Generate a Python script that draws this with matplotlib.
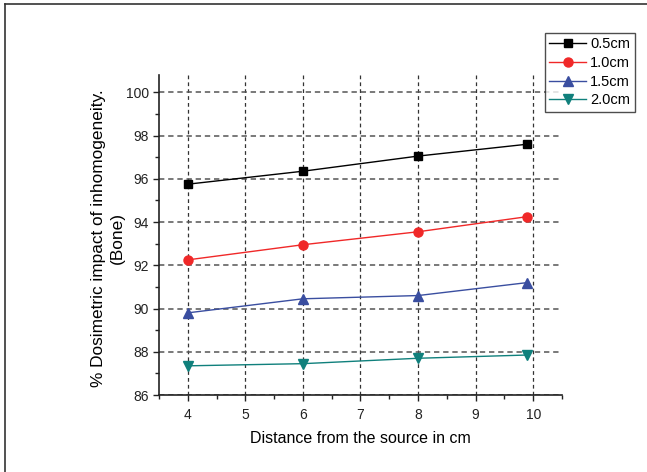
import matplotlib.pyplot as plt
from matplotlib.lines import Line2D
from matplotlib.ticker import MultipleLocator

plt.rcParams['font.family'] = ['Liberation Sans', 'DejaVu Sans']

# distance from source (cm)
distance = [4, 6, 8, 9.9]

# dosimetric impact per depth
d05 = [95.75, 96.35, 97.05, 97.6]
d10 = [92.25, 92.95, 93.55, 94.25]
d15 = [89.8, 90.45, 90.6, 91.2]
d20 = [87.35, 87.45, 87.7, 87.85]

labels = ['0.5cm', '1.0cm', '1.5cm', '2.0cm']

fig = plt.figure(figsize=(6.47, 4.72), dpi=100)
ax = fig.add_axes([0.2457, 0.1631, 0.6229, 0.678])

ax.plot(distance, d05, '-s', color='black', lw=1, ms=5.5, label=labels[0])
ax.plot(distance, d10, '-o', color='#f02828', lw=1, ms=6.5, label=labels[1])
ax.plot(distance, d15, '-^', color='#3a4ea0', lw=1, ms=7, label=labels[2])
ax.plot(distance, d20, '-v', color='#10807c', lw=1, ms=7, label=labels[3])

ax.set_xlim(3.5, 10.5)
ax.set_ylim(86, 100.8)
ax.xaxis.set_major_locator(MultipleLocator(1))
ax.xaxis.set_minor_locator(MultipleLocator(0.5))
ax.yaxis.set_major_locator(MultipleLocator(2))
ax.yaxis.set_minor_locator(MultipleLocator(1))

ax.spines['top'].set_visible(False)
ax.spines['right'].set_visible(False)
for s in ('left', 'bottom'):
    ax.spines[s].set_linewidth(1.2)
    ax.spines[s].set_color('#222222')

ax.tick_params(which='major', direction='out', length=4, width=1, labelsize=10, colors='#222222')
ax.tick_params(axis='x', which='major', pad=5)
ax.tick_params(axis='y', which='major', pad=3)
ax.tick_params(which='minor', direction='out', length=3, width=1, colors='#222222')

ax.grid(True, which='major', axis='x', color='#333333', ls=(0, (3, 2.5)), lw=0.9)
ax.grid(True, which='major', axis='y', color='#555555', ls=(0, (3.5, 2.5)), lw=1.1)

ax.set_xlabel('Distance from the source in cm', fontsize=11.5, labelpad=7)
ax.set_ylabel('% Dosimetric impact of inhomogeneity.\n(Bone)', fontsize=12.4,
              linespacing=1.3)
ax.yaxis.set_label_coords(-0.085, 0.49)

leg = ax.legend(loc='upper left', bbox_to_anchor=(545 / 647, 1 - 33 / 472),
                bbox_transform=fig.transFigure, borderaxespad=0, fontsize=10.5,
                frameon=True, fancybox=False, edgecolor='#222222',
                handlelength=2.5, handletextpad=0.3, labelspacing=0.32,
                borderpad=0.3)
leg.get_frame().set_linewidth(1)

# frame on the top and left of the picture
fig.add_artist(Line2D([5 / 647, 1], [1 - 4 / 472, 1 - 4 / 472], color='#333333', lw=1.2))
fig.add_artist(Line2D([5 / 647, 5 / 647], [0, 1 - 4 / 472], color='#333333', lw=1.2))

plt.savefig('out.png', dpi=100)
plt.close()
